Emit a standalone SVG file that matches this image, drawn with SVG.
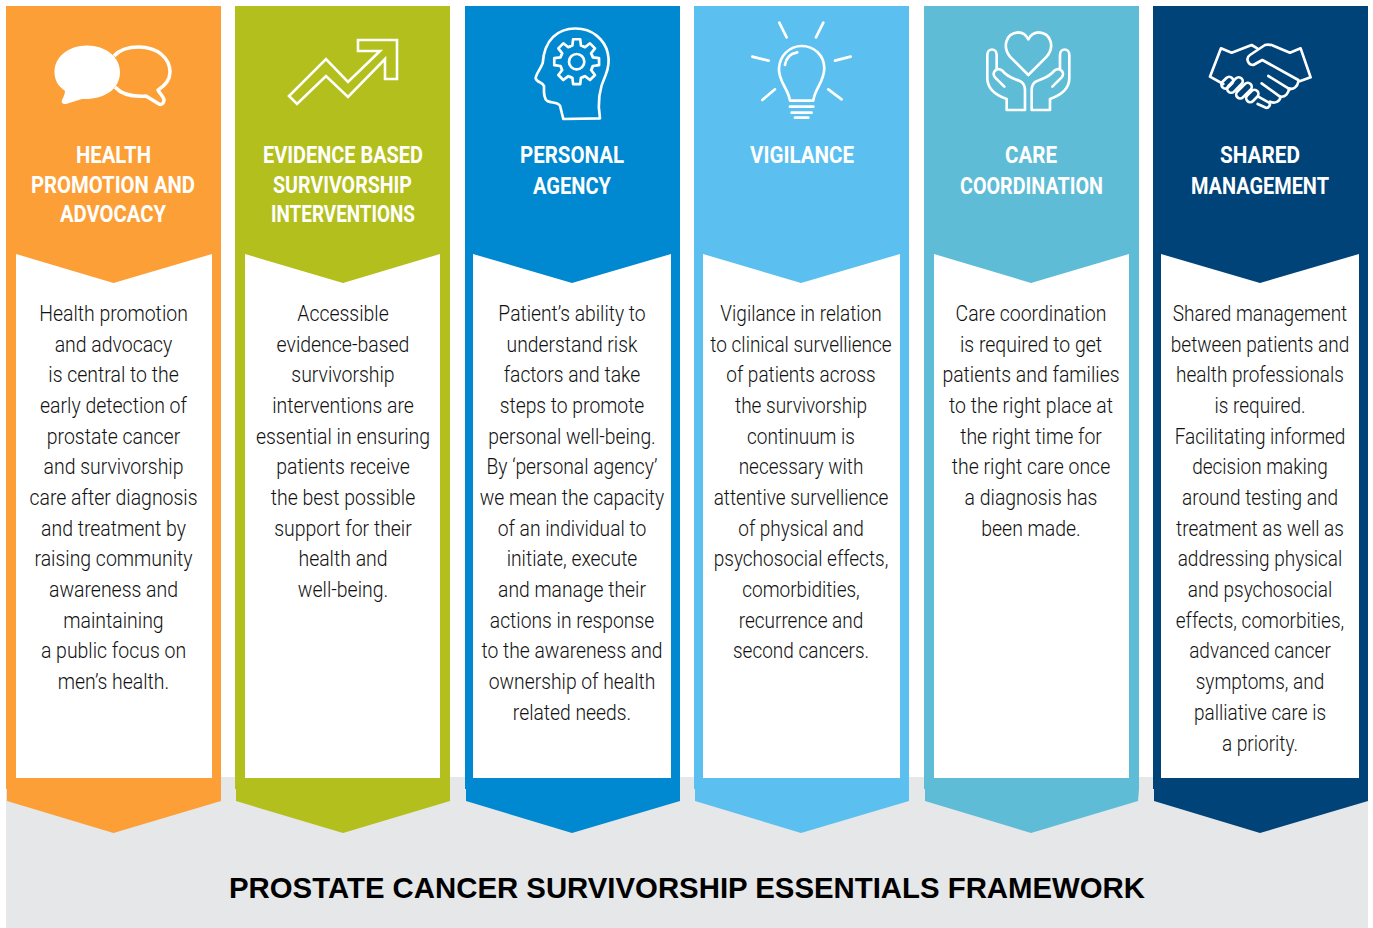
<svg xmlns="http://www.w3.org/2000/svg" xmlns:xlink="http://www.w3.org/1999/xlink" width="1373" height="928" viewBox="0 0 1373 928">
<style>
text{font-family:Roboto,"Liberation Sans",sans-serif;text-anchor:middle}
.h{font-size:23.5px;font-weight:700;fill:#fff}
.b{font-size:22.5px;font-weight:300;fill:#111}
.t{font-family:"Liberation Sans",Arial,sans-serif;font-size:29.5px;font-weight:700;fill:#000}
.p{fill:#fff}
.i{fill:none;stroke:#fff;stroke-width:8;stroke-linejoin:round;stroke-linecap:round}
</style>
<defs>
<path id="tooth" d="M-19.1 -46.2L-12.9 -48.3L-10.6 -67.2L10.6 -67.2L12.9 -48.3L19.1 -46.2"/>
</defs>
<rect x="6" y="777" width="1362" height="151" fill="#e6e7e9"/>

<g id="node-health">
<path fill="#fd9f37" d="M6 6H221V801L113.5 833L7 801V789H6Z"/>
<path class="p" d="M16 254L113.5 283L212 254V778H16Z"/>
<path class="p" d="M87 45.5C68 45.5 54.5 57 54.5 72C54.5 80 58 86 65 91C65 94 63 98 62 100C61 103 63 104.5 66 104L82 99C103 100 120 90 120 72C120 57 106 45.5 87 45.5Z"/>
<path fill="none" stroke="#fff" stroke-width="3.5" stroke-linejoin="round" d="M114 56C120 49 130 47 139 47C157 47 170 58 170 72C170 79 166 85 158 90C160 94 164 97 164 100C164 104 161 105 159 104L146 96C132 97 122 95 115 87"/>
<g class="h"><text x="113.5" y="163" textLength="75" lengthAdjust="spacingAndGlyphs">HEALTH</text><text x="113" y="193" textLength="164" lengthAdjust="spacingAndGlyphs">PROMOTION AND</text><text x="113" y="222" textLength="106" lengthAdjust="spacingAndGlyphs">ADVOCACY</text></g>
<g class="b" transform="translate(113.5 0) scale(.865 1)"><text y="321">Health promotion</text><text y="352">and advocacy</text><text y="382">is central to the</text><text y="413">early detection of</text><text y="444">prostate cancer</text><text y="474">and survivorship</text><text y="505">care after diagnosis</text><text y="536">and treatment by</text><text y="566">raising community</text><text y="597">awareness and</text><text y="628">maintaining</text><text y="658">a public focus on</text><text y="689">men’s health.</text></g>
</g>

<g id="node-evidence">
<path fill="#b3bf1c" d="M235 6H450V801L343 833L236 801V789H235Z"/>
<path class="p" d="M245 254L343 283L440 254V778H245Z"/>
<path fill="none" stroke="#fff" stroke-width="2.6" d="M358 40H397V79H385V59L348 97L326 76L297 104L289 96L326 59L348 82L380 51H358Z"/>
<g class="h"><text x="343" y="163" textLength="160" lengthAdjust="spacingAndGlyphs">EVIDENCE BASED</text><text x="342.5" y="193" textLength="139" lengthAdjust="spacingAndGlyphs">SURVIVORSHIP</text><text x="343" y="222" textLength="144" lengthAdjust="spacingAndGlyphs">INTERVENTIONS</text></g>
<g class="b" transform="translate(343 0) scale(.865 1)"><text y="321">Accessible</text><text y="352">evidence-based</text><text y="382">survivorship</text><text y="413">interventions are</text><text y="444">essential in ensuring</text><text y="474">patients receive</text><text y="505">the best possible</text><text y="536">support for their</text><text y="566">health and</text><text y="597">well-being.</text></g>
</g>

<g id="node-agency">
<path fill="#0089d0" d="M465 6H680V801L572 833L466 801V789H465Z"/>
<path class="p" d="M473 254L572 283L671 254V778H473Z"/>
<g class="i" transform="translate(460 0) scale(.3333)">
<path d="M310 357L420 355C412 310 418 265 437 225C455 180 445 135 410 107C375 78 315 78 280 110C258 132 250 160 248 190C240 210 228 222 227 235C230 248 248 245 252 258C252 275 250 295 262 303C275 310 292 305 300 317Z"/>
<circle cx="350" cy="185" r="23"/>
<g transform="translate(350 185)"><use xlink:href="#tooth" href="#tooth"/><use href="#tooth" transform="rotate(45)"/><use href="#tooth" transform="rotate(90)"/><use href="#tooth" transform="rotate(135)"/><use href="#tooth" transform="rotate(180)"/><use href="#tooth" transform="rotate(225)"/><use href="#tooth" transform="rotate(270)"/><use href="#tooth" transform="rotate(315)"/></g>
</g>
<g class="h"><text x="572" y="163" textLength="104" lengthAdjust="spacingAndGlyphs">PERSONAL</text><text x="572" y="194" textLength="78" lengthAdjust="spacingAndGlyphs">AGENCY</text></g>
<g class="b" transform="translate(572 0) scale(.858 1)"><text y="321">Patient’s ability to</text><text y="352">understand risk</text><text y="382">factors and take</text><text y="413">steps to promote</text><text y="444">personal well-being.</text><text y="474">By ‘personal agency’</text><text y="505">we mean the capacity</text><text y="536">of an individual to</text><text y="566">initiate, execute</text><text y="597">and manage their</text><text y="628">actions in response</text><text y="658">to the awareness and</text><text y="689">ownership of health</text><text y="720">related needs.</text></g>
</g>

<g id="node-vigilance">
<path fill="#5bc0ef" d="M694 6H909V801L801 833L695 801V789H694Z"/>
<path class="p" d="M703 254L801 283L900 254V778H703Z"/>
<g class="i" transform="translate(460 0) scale(.3333)">
<path d="M958 68L980 112M1090 68L1068 112M877 170L926 182M1172 170L1125 182M907 300L945 268M1145 298L1105 268"/>
<path d="M990 302C985 265 955 245 957 205C960 165 990 138 1025 138C1062 138 1093 165 1093 205C1093 245 1065 265 1060 302Z"/>
<path d="M975 195C978 175 990 160 1012 157M990 320H1060M995 338H1055M1005 353H1045"/>
</g>
<g class="h"><text x="802" y="163" textLength="104" lengthAdjust="spacingAndGlyphs">VIGILANCE</text></g>
<g class="b" transform="translate(801 0) scale(.845 1)"><text y="321">Vigilance in relation</text><text y="352">to clinical survellience</text><text y="382">of patients across</text><text y="413">the survivorship</text><text y="444">continuum is</text><text y="474">necessary with</text><text y="505">attentive survellience</text><text y="536">of physical and</text><text y="566">psychosocial effects,</text><text y="597">comorbidities,</text><text y="628">recurrence and</text><text y="658">second cancers.</text></g>
</g>

<g id="node-care">
<path fill="#5fbcd6" d="M924 6H1139V789L1138 801L1031 833L925 801V789H924Z"/>
<path class="p" d="M934 254L1031 283L1129 254V778H934Z"/>
<g class="i" transform="translate(915 0) scale(.3333)">
<path d="M340 225L285 170C262 140 272 100 310 97C325 97 335 108 340 118C345 108 355 97 372 97C408 100 420 140 395 170Z"/>
<path d="M330 330H275V297C240 285 217 265 217 235V165C217 143 245 143 245 165V207M268 260L240 232C228 218 245 200 262 212C280 235 300 235 318 245C328 252 330 260 330 270V330"/>
<path transform="translate(680 0) scale(-1 1)" d="M330 330H275V297C240 285 217 265 217 235V165C217 143 245 143 245 165V207M268 260L240 232C228 218 245 200 262 212C280 235 300 235 318 245C328 252 330 260 330 270V330"/>
</g>
<g class="h"><text x="1031" y="163" textLength="52" lengthAdjust="spacingAndGlyphs">CARE</text><text x="1031.5" y="194" textLength="143" lengthAdjust="spacingAndGlyphs">COORDINATION</text></g>
<g class="b" transform="translate(1031 0) scale(.865 1)"><text y="321">Care coordination</text><text y="352">is required to get</text><text y="382">patients and families</text><text y="413">to the right place at</text><text y="444">the right time for</text><text y="474">the right care once</text><text y="505">a diagnosis has</text><text y="536">been made.</text></g>
</g>

<g id="node-shared">
<path fill="#004379" d="M1153 6H1368V801L1260 833L1154 801V789H1153Z"/>
<path class="p" d="M1161 254L1260 283L1359 254V778H1161Z"/>
<g class="i" transform="translate(915 0) scale(.3333)">
<path d="M1027 145L1010 135L950 158L918 145L885 230L925 252"/>
<path d="M1150 240L1042 180L1015 195C1000 195 990 175 1005 165L1050 135C1060 132 1065 133 1075 137L1125 158L1157 145L1187 232L1150 245C1148 260 1135 270 1122 265C1122 280 1110 292 1097 290C1095 305 1080 312 1065 305"/>
<path d="M1060 228L1125 268M1040 250L1095 290"/>
<rect x="925" y="228" width="24" height="40" rx="12" transform="rotate(45 937 248)"/>
<rect x="948" y="227" width="24" height="56" rx="12" transform="rotate(45 960 255)"/>
<rect x="975" y="244" width="24" height="56" rx="12" transform="rotate(45 987 272)"/>
<rect x="1000" y="267" width="24" height="42" rx="12" transform="rotate(45 1012 288)"/>
<path d="M1030 290L1062 308C1070 312 1060 328 1050 322L1028 312"/>
</g>
<g class="h"><text x="1260" y="163" textLength="80" lengthAdjust="spacingAndGlyphs">SHARED</text><text x="1260" y="194" textLength="138" lengthAdjust="spacingAndGlyphs">MANAGEMENT</text></g>
<g class="b" transform="translate(1260 0) scale(.845 1)"><text y="321">Shared management</text><text y="352">between patients and</text><text y="382">health professionals</text><text y="413">is required.</text><text y="444">Facilitating informed</text><text y="474">decision making</text><text y="505">around testing and</text><text y="536">treatment as well as</text><text y="566">addressing physical</text><text y="597">and psychosocial</text><text y="628">effects, comorbities,</text><text y="658">advanced cancer</text><text y="689">symptoms, and</text><text y="720">palliative care is</text><text y="751">a priority.</text></g>
</g>

<g id="connectors"></g>
<text class="t" x="687" y="898" textLength="916" lengthAdjust="spacingAndGlyphs">PROSTATE CANCER SURVIVORSHIP ESSENTIALS FRAMEWORK</text>
</svg>
